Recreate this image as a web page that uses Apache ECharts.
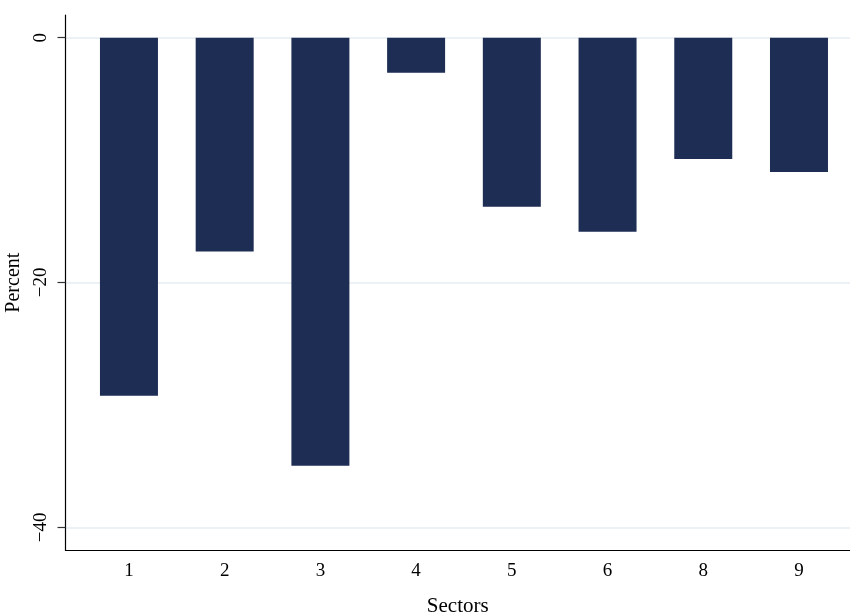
<!DOCTYPE html>
<html>
<head>
<meta charset="utf-8">
<script src="https://cdn.jsdelivr.net/npm/echarts@6/dist/echarts.min.js"></script>
<style>html,body{margin:0;padding:0;background:#fff}#c{width:850px;height:616px}</style>
</head>
<body>
<div id="c"></div>
<script>
var categories = ['1', '2', '3', '4', '5', '6', '8', '9'];
var values = [-29.25, -17.48, -34.97, -2.86, -13.81, -15.85, -9.91, -10.97];
var yTicks = [0, -20, -40];
var xTitle = 'Sectors';
var yTitle = 'Percent';

var FONT = '"Liberation Serif", "Times New Roman", serif';
var chart = echarts.init(document.getElementById('c'), null, {renderer: 'canvas'});
var positions = categories.map(function (c, i) { return i + 1; });
var seriesData = values.map(function (v, i) { return [positions[i], v]; });

chart.setOption({
  animation: false,
  backgroundColor: '#ffffff',
  grid: {left: 65.5, right: 0, top: 15, bottom: 65.7, containLabel: false, outerBoundsMode: 'none'},
  xAxis: {
    type: 'value',
    min: 0.337,
    max: 8.533,
    name: xTitle,
    nameLocation: 'middle',
    nameGap: 46,
    nameTextStyle: {fontFamily: FONT, fontSize: 21, color: '#000'},
    axisLine: {show: true, onZero: false, lineStyle: {color: '#000', width: 1.2}},
    axisTick: {show: false},
    splitLine: {show: false},
    axisLabel: {
      customValues: positions,
      margin: 11,
      fontFamily: FONT, fontSize: 19, color: '#000',
      formatter: function (v) { var i = Math.round(v) - 1; return categories[i] !== undefined ? categories[i] : ''; }
    }
  },
  yAxis: {
    type: 'value',
    min: -41.88,
    max: 1.85,
    name: yTitle,
    nameLocation: 'middle',
    nameGap: 38,
    nameTextStyle: {fontFamily: FONT, fontSize: 20, color: '#000'},
    axisLine: {show: true, onZero: false, lineStyle: {color: '#000', width: 1.2}},
    axisTick: {show: true, customValues: yTicks, length: 8, lineStyle: {color: '#333', width: 1.2}},
    splitLine: {show: true, lineStyle: {color: '#eaf0f3', width: 1.5}},
    axisLabel: {
      customValues: yTicks,
      rotate: 90,
      margin: 15,
      fontFamily: FONT, fontSize: 19, color: '#000',
      formatter: function (v) { return String(v).replace('-', '\u2212'); }
    }
  },
  series: [{
    type: 'bar',
    data: seriesData,
    barWidth: 58,
    itemStyle: {color: '#1e2d54'},
    markLine: {
      silent: true, symbol: 'none', label: {show: false},
      lineStyle: {color: '#eaf0f3', width: 1.5, type: 'solid'},
      data: yTicks.map(function (t) { return {yAxis: t}; }),
      z: 0
    }
  }]
});
</script>
</body>
</html>
